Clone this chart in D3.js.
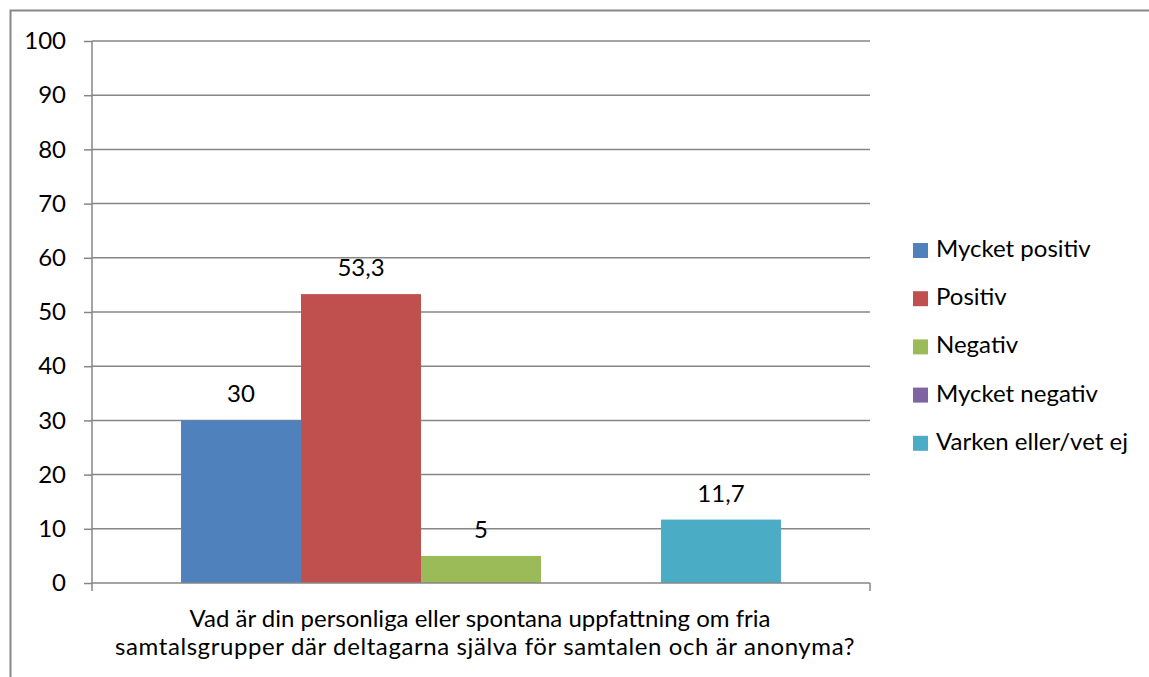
<!DOCTYPE html>
<html>
<head>
<meta charset="utf-8">
<script src="https://cdn.jsdelivr.net/npm/d3@7"></script>
<style>
  body { margin: 0; background: #fff; }
  svg { display: block; font-family: Lato, 'Open Sans', sans-serif; }
</style>
</head>
<body>
<div id="container"></div>
<script>
const series = ['Mycket positiv', 'Positiv', 'Negativ', 'Mycket negativ', 'Varken eller/vet ej']
const values = [30, 53.3, 5, 0, 11.7]
const valueLabels = ['30', '53,3', '5', '', '11,7']
const colors = ['#4f81bd', '#c0504d', '#9bbb59', '#8064a2', '#4bacc6']
const yTicks = [0, 10, 20, 30, 40, 50, 60, 70, 80, 90, 100]
const categoryLines = [
  'Vad är din personliga eller spontana uppfattning om fria',
  'samtalsgrupper där deltagarna själva för samtalen och är anonyma?'
]

const w = 1149
const h = 677
const plotLeft = 92
const plotRight = 870
const plotTop = 41
const plotBottom = 583
const fontSize = 24

const svg = d3.select('#container')
  .append('svg')
  .attr('width', w)
  .attr('height', h)

// outer chart border
svg.append('rect')
  .attr('x', 10.5)
  .attr('y', 10.5)
  .attr('width', w + 20)
  .attr('height', h + 20)
  .attr('fill', 'none')
  .attr('stroke', '#878787')
  .attr('stroke-width', 2)

const yScale = d3.scaleLinear()
  .domain([0, 100])
  .range([plotBottom, plotTop])

const xScale = d3.scaleBand()
  .domain(series)
  .range([plotLeft, plotRight])
  .paddingInner(0)
  .paddingOuter(0.742)

// gridlines
svg.append('g')
  .selectAll('line')
  .data(yTicks.filter(d => d > 0))
  .enter().append('line')
  .attr('x1', plotLeft)
  .attr('x2', plotRight)
  .attr('y1', d => yScale(d))
  .attr('y2', d => yScale(d))
  .attr('stroke', '#868686')
  .attr('stroke-width', 1.5)

// bars
svg.append('g')
  .selectAll('rect')
  .data(values)
  .enter().append('rect')
  .attr('x', (d, i) => xScale(series[i]))
  .attr('y', d => yScale(d))
  .attr('width', xScale.bandwidth())
  .attr('height', d => yScale(0) - yScale(d))
  .attr('fill', (d, i) => colors[i])

// value labels
svg.append('g')
  .selectAll('text')
  .data(values)
  .enter().append('text')
  .attr('x', (d, i) => xScale(series[i]) + xScale.bandwidth() / 2)
  .attr('y', d => yScale(d) - 18)
  .attr('text-anchor', 'middle')
  .style('font-size', fontSize + 'px')
  .attr('fill', '#000')
  .text((d, i) => valueLabels[i])

// y axis
const yAxis = d3.axisLeft(yScale)
  .tickValues(yTicks)
  .tickSize(8)
  .tickPadding(18)

const gy = svg.append('g')
  .attr('transform', 'translate(' + plotLeft + ',0)')
  .call(yAxis)
gy.select('.domain').attr('stroke', '#868686').attr('stroke-width', 1.5).attr('d', 'M0,' + plotTop + 'V' + (plotBottom + 8))
gy.selectAll('.tick line').attr('stroke', '#868686').attr('stroke-width', 1.5)
gy.selectAll('.tick text')
  .style('font-size', fontSize + 'px')
  .style('font-family', 'Lato, sans-serif')
  .attr('fill', '#000')

// x axis
svg.append('path')
  .attr('d', 'M' + plotLeft + ',' + plotBottom + 'H' + plotRight + 'M' + plotRight + ',' + plotBottom + 'V' + (plotBottom + 8))
  .attr('stroke', '#868686')
  .attr('stroke-width', 1.5)
  .attr('fill', 'none')

svg.append('g')
  .selectAll('text')
  .data(categoryLines)
  .enter().append('text')
  .attr('x', (d, i) => i === 0 ? 480 : 485)
  .attr('y', (d, i) => 627 + i * 28)
  .attr('text-anchor', 'middle')
  .style('font-size', fontSize + 'px')
  .style('letter-spacing', (d, i) => i === 0 ? '0px' : '0.6px')
  .attr('fill', '#000')
  .text(d => d)

// legend
const legend = svg.append('g')
  .attr('id', 'legend')

legend.selectAll('rect')
  .data(series)
  .enter().append('rect')
  .attr('x', 913)
  .attr('y', (d, i) => 243 + i * 48.2)
  .attr('width', 15)
  .attr('height', 15)
  .attr('fill', (d, i) => colors[i])

legend.selectAll('text')
  .data(series)
  .enter().append('text')
  .attr('x', 936)
  .attr('y', (d, i) => 257 + i * 48.2)
  .style('font-size', fontSize + 'px')
  .attr('fill', '#000')
  .text(d => d)
</script>
</body>
</html>
